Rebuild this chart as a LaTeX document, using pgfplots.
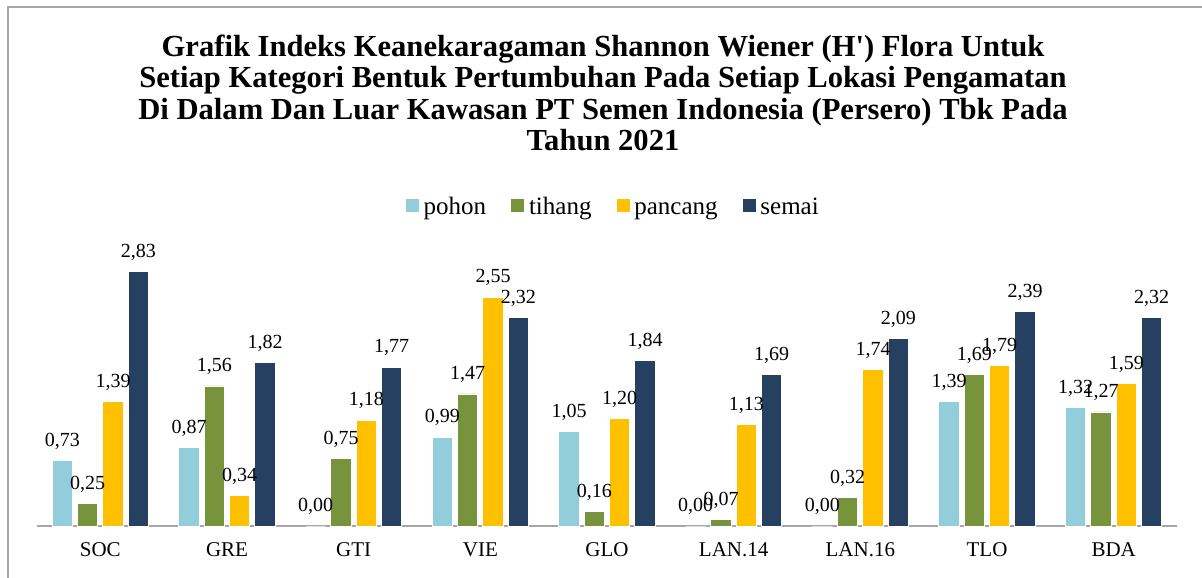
\documentclass[border=0pt]{standalone}
\usepackage{pgfplots}
\pgfplotsset{compat=1.18}
\usepackage{fontspec}
\setmainfont{Liberation Serif}
\definecolor{cpohon}{HTML}{92CDDC}
\definecolor{ctihang}{HTML}{77933C}
\definecolor{cpancang}{HTML}{FFC000}
\definecolor{csemai}{HTML}{254061}
\pgfplotstableread{
x pohon tihang pancang semai
0 0.73 0.25 1.39 2.83
1 0.87 1.56 0.34 1.82
2 0.00 0.75 1.18 1.77
3 0.99 1.47 2.55 2.32
4 1.05 0.16 1.20 1.84
5 0.00 0.07 1.13 1.69
6 0.00 0.32 1.74 2.09
7 1.39 1.69 1.79 2.39
8 1.32 1.27 1.59 2.32
}\datatable
\begin{document}
\begin{tikzpicture}
\path[use as bounding box] (0,0) rectangle (601pt,288.5pt);
\draw[gray!70, line width=1pt] (4pt,-2pt) -- (4pt,285pt) -- (603pt,285pt);
\node[align=center, font=\fontsize{15.3}{15.75}\selectfont\bfseries] at (301.5pt,242pt)
{Grafik Indeks Keanekaragaman Shannon Wiener (H\textquotesingle) Flora Untuk\\
Setiap Kategori Bentuk Pertumbuhan Pada Setiap Lokasi Pengamatan\\
Di Dalam Dan Luar Kawasan PT Semen Indonesia (Persero) Tbk Pada\\
Tahun 2021};
\begin{axis}[
  at={(18.5pt,25.5pt)}, anchor=south west,
  scale only axis, width=570pt, height=134.7pt,
  xmin=-0.5, xmax=8.5, ymin=0, ymax=3,
  axis x line*=bottom, hide y axis,
  x axis line style={gray!70, line width=1pt},
  xtick={0,...,8},
  xticklabels={SOC,GRE,GTI,VIE,GLO,LAN.14,LAN.16,TLO,BDA},
  major tick length=0pt,
  xticklabel style={font=\fontsize{10.5}{12}\selectfont, yshift=-5pt},
  ybar, bar width=0.16,
  /pgf/number format/assume math mode=true,
  /pgf/number format/fixed,
  /pgf/number format/fixed zerofill,
  /pgf/number format/precision=2,
  /pgf/number format/use comma,
  nodes near coords,
  nodes near coords style={font=\fontsize{10}{12}\selectfont, yshift=2pt},
  legend style={at={(0.506,1.173)}, anchor=center, legend columns=-1, draw=none, font=\fontsize{12.5}{14}\selectfont, nodes={text height=0.75em, text depth=0.25em}, /tikz/every even column/.append style={column sep=10pt}},
  legend image code/.code={\fill[#1] (0pt,-1.3pt) rectangle (7pt,5.7pt);},
  clip=false,
]
\addplot[fill=cpohon, draw=white, line width=0.4pt, bar shift=-0.3] table[x=x,y=pohon]{\datatable};
\addplot[fill=ctihang, draw=white, line width=0.4pt, bar shift=-0.1] table[x=x,y=tihang]{\datatable};
\addplot[fill=cpancang, draw=white, line width=0.4pt, bar shift=0.1] table[x=x,y=pancang]{\datatable};
\addplot[fill=csemai, draw=white, line width=0.4pt, bar shift=0.3] table[x=x,y=semai]{\datatable};
\legend{pohon,tihang,pancang,semai}
\end{axis}
\end{tikzpicture}
\end{document}
